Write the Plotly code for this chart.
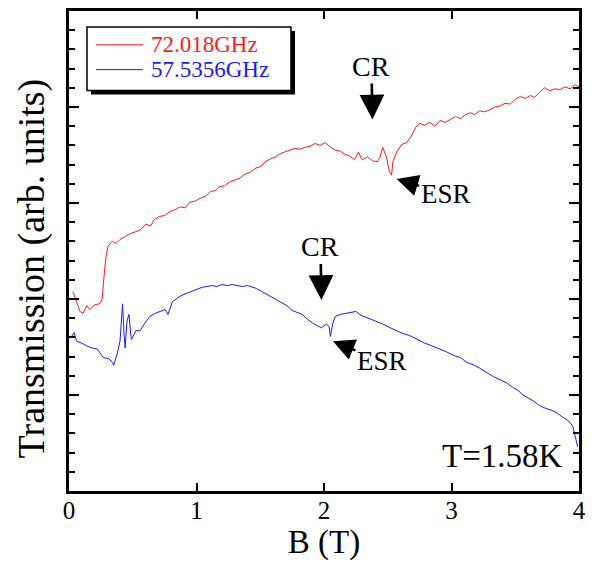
import plotly.graph_objects as go

# ---- data ----
red_B = [0.03, 0.055, 0.086, 0.11, 0.14, 0.165, 0.2, 0.24, 0.26, 0.275, 0.29, 0.306, 0.34, 0.37, 0.40, 0.44,
         0.48, 0.52, 0.56, 0.60, 0.64, 0.67, 0.71, 0.75, 0.79, 0.83, 0.87, 0.91, 0.95, 0.99, 1.03, 1.07,
         1.11, 1.15, 1.18, 1.22, 1.26, 1.30, 1.34, 1.38, 1.42, 1.46, 1.50, 1.54, 1.58, 1.62, 1.65, 1.69,
         1.73, 1.77, 1.81, 1.85, 1.89, 1.93, 1.97, 2.01, 2.05, 2.09, 2.13, 2.16, 2.20, 2.24, 2.27, 2.30,
         2.34, 2.38, 2.42, 2.44, 2.46, 2.49, 2.51, 2.53, 2.54, 2.57, 2.61, 2.65, 2.69, 2.72, 2.75, 2.79,
         2.83, 2.87, 2.91, 2.95, 2.99, 3.03, 3.07, 3.11, 3.15, 3.18, 3.22, 3.26, 3.30, 3.34, 3.38, 3.42,
         3.46, 3.50, 3.54, 3.58, 3.62, 3.65, 3.69, 3.73, 3.77, 3.81, 3.85, 3.89, 3.93, 3.97, 4.0]
red_T = [2.08, 1.98, 1.87, 1.85, 1.93, 1.89, 1.94, 1.95, 2.0, 2.24, 2.44, 2.55, 2.60, 2.58, 2.62, 2.65,
         2.68, 2.70, 2.72, 2.78, 2.76, 2.83, 2.86, 2.87, 2.91, 2.93, 2.96, 2.95, 3.01, 3.02, 3.05, 3.07,
         3.12, 3.13, 3.17, 3.18, 3.22, 3.24, 3.26, 3.30, 3.32, 3.36, 3.38, 3.43, 3.46, 3.48, 3.51, 3.53,
         3.55, 3.57, 3.56, 3.58, 3.59, 3.62, 3.60, 3.63, 3.58, 3.55, 3.54, 3.51, 3.49, 3.45, 3.53, 3.45,
         3.48, 3.44, 3.43, 3.48, 3.58, 3.48, 3.34, 3.29, 3.43, 3.53, 3.61, 3.63, 3.71, 3.79, 3.83, 3.81,
         3.84, 3.80, 3.86, 3.84, 3.87, 3.90, 3.88, 3.92, 3.94, 3.92, 3.96, 3.95, 3.97, 4.00, 4.01, 4.04,
         4.03, 4.08, 4.11, 4.09, 4.12, 4.10, 4.15, 4.20, 4.17, 4.19, 4.18, 4.21, 4.19, 4.23, 4.21]

blue_B = [0.02, 0.04, 0.06, 0.10, 0.14, 0.18, 0.22, 0.24, 0.27, 0.31, 0.34, 0.35, 0.38, 0.40, 0.415, 0.42,
          0.43, 0.44, 0.455, 0.47, 0.486, 0.49, 0.525, 0.557, 0.596, 0.635, 0.675, 0.714, 0.753, 0.776,
          0.81, 0.85, 0.886, 0.925, 0.965, 1.0, 1.04, 1.08, 1.12, 1.16, 1.20, 1.24, 1.28, 1.32, 1.36,
          1.40, 1.44, 1.47, 1.51, 1.55, 1.59, 1.63, 1.67, 1.71, 1.75, 1.79, 1.83, 1.87, 1.91, 1.95, 1.98,
          2.02, 2.04, 2.05, 2.07, 2.09, 2.13, 2.17, 2.21, 2.25, 2.29, 2.33, 2.37, 2.41, 2.46, 2.52, 2.57,
          2.62, 2.67, 2.73, 2.79, 2.85, 2.91, 2.96, 3.02, 3.07, 3.12, 3.18, 3.22, 3.28, 3.33, 3.38, 3.44,
          3.48, 3.52, 3.56, 3.60, 3.64, 3.69, 3.74, 3.79, 3.83, 3.87, 3.91, 3.95, 3.97, 3.99]
blue_T = [1.61, 1.65, 1.56, 1.54, 1.51, 1.49, 1.48, 1.44, 1.39, 1.38, 1.34, 1.31, 1.44, 1.56, 1.87, 1.95,
          1.67, 1.49, 1.77, 1.84, 1.61, 1.58, 1.67, 1.67, 1.75, 1.82, 1.85, 1.87, 1.89, 1.84,
          1.97, 2.01, 2.04, 2.06, 2.08, 2.10, 2.12, 2.13, 2.14, 2.13, 2.15, 2.14, 2.15, 2.14, 2.13,
          2.14, 2.12, 2.11, 2.08, 2.05, 2.02, 1.99, 1.96, 1.93, 1.88, 1.86, 1.84, 1.79, 1.75, 1.72, 1.70,
          1.74, 1.71, 1.61, 1.75, 1.82, 1.84, 1.85, 1.86, 1.87, 1.83, 1.81, 1.79, 1.77, 1.74, 1.70, 1.67,
          1.64, 1.62, 1.58, 1.54, 1.51, 1.48, 1.45, 1.41, 1.39, 1.34, 1.31, 1.28, 1.23, 1.19, 1.16, 1.12,
          1.08, 1.05, 1.00, 0.97, 0.94, 0.89, 0.86, 0.84, 0.81, 0.77, 0.74, 0.68, 0.58, 0.46]

series_names = ["72.018GHz", "57.5356GHz"]
series_colors = ["#ff1a1a", "#1a1aff"]
x_ticks = [0, 1, 2, 3, 4]

# annotation anchor points (B, T) for CR / ESR markers
cr_points = [(2.38, 3.87), (1.98, 1.99)]
esr_points = [(2.57, 3.25), (2.07, 1.56)]

FONT = "Liberation Serif, Times New Roman, serif"

# plot area geometry (pixels) used for paper-coordinate placement of decorations
L, R, T, Bm = 69, 18, 8, 78
PW, PH = 597 - L - R, 569 - T - Bm


def px(xp):
    return (xp - L) / PW


def py(yp):
    return (569 - Bm - yp) / PH


fig = go.Figure()
for Bv, Tv, name, col in [(red_B, red_T, series_names[0], series_colors[0]),
                          (blue_B, blue_T, series_names[1], series_colors[1])]:
    fig.add_trace(go.Scatter(x=Bv, y=Tv, mode="lines", line=dict(color=col, width=1),
                             name=name, showlegend=False))

ann = []
for (bx, ty) in cr_points:
    ann.append(dict(x=bx, y=ty, xref="x", yref="y", text="CR", showarrow=True,
                    ax=-1, ay=-53, arrowhead=2, arrowwidth=2.6, arrowsize=1.9,
                    arrowcolor="black", font=dict(family=FONT, size=28, color="black")))
for (bx, ty), (dx, dy) in zip(esr_points, [(49, 15), (49, 20)]):
    ann.append(dict(x=bx, y=ty, xref="x", yref="y", text="ESR", showarrow=True,
                    ax=dx, ay=dy, arrowhead=2, arrowwidth=2.4, arrowsize=1.8,
                    arrowcolor="black", font=dict(family=FONT, size=27, color="black")))
ann.append(dict(x=px(565), y=py(456), xref="paper", yref="paper", text="T=1.58K",
                showarrow=False, xanchor="right", yanchor="middle",
                font=dict(family=FONT, size=33, color="black")))
# y-axis title
ann.append(dict(x=px(31), y=py(267), xref="paper", yref="paper", text="Transmission (arb. units)",
                showarrow=False, textangle=-90, xanchor="center", yanchor="middle",
                font=dict(family=FONT, size=38, color="black")))

# legend (drawn as a framed box with shadow)
shapes = [
    dict(type="rect", xref="paper", yref="paper", x0=px(91), x1=px(295), y0=py(92), y1=py(28),
         fillcolor="black", line=dict(width=0), layer="above"),
    dict(type="rect", xref="paper", yref="paper", x0=px(87), x1=px(291), y0=py(88), y1=py(24),
         fillcolor="white", line=dict(color="black", width=1.5), layer="above"),
]
for i, (name, col) in enumerate(zip(series_names, series_colors)):
    yc = 42 + 25 * i
    shapes.append(dict(type="line", xref="paper", yref="paper", x0=px(96), x1=px(143),
                       y0=py(yc), y1=py(yc), line=dict(color=col, width=1), layer="above"))
    ann.append(dict(x=px(150), y=py(yc), xref="paper", yref="paper", text=name, showarrow=False,
                    xanchor="left", yanchor="middle", borderpad=0,
                    font=dict(family=FONT, size=23, color=col)))

fig.update_layout(
    width=597, height=569,
    margin=dict(l=L, r=R, t=T, b=Bm),
    paper_bgcolor="white", plot_bgcolor="white",
    font=dict(family=FONT, color="black"),
    showlegend=False,
    annotations=ann,
    shapes=shapes,
)
fig.update_xaxes(range=[0, 4], tickvals=x_ticks, ticks="inside", ticklen=8, tickwidth=1.5,
                 tickcolor="black", showline=True, linewidth=3, linecolor="black", mirror="ticks",
                 showgrid=False, zeroline=False, tickfont=dict(size=25, family=FONT),
                 ticklabelstandoff=-5,
                 title=dict(text="B (T)", font=dict(size=33, family=FONT), standoff=6))
fig.update_yaxes(range=[0, 5], dtick=1, ticks="inside", ticklen=10, tickwidth=1.5,
                 tickcolor="black", showline=True, linewidth=3, linecolor="black", mirror="ticks",
                 showgrid=False, zeroline=False, showticklabels=False,
                 minor=dict(dtick=0.2, ticks="inside", ticklen=6, tickwidth=1.5, tickcolor="black", showgrid=False))

fig.write_html("out.html")
